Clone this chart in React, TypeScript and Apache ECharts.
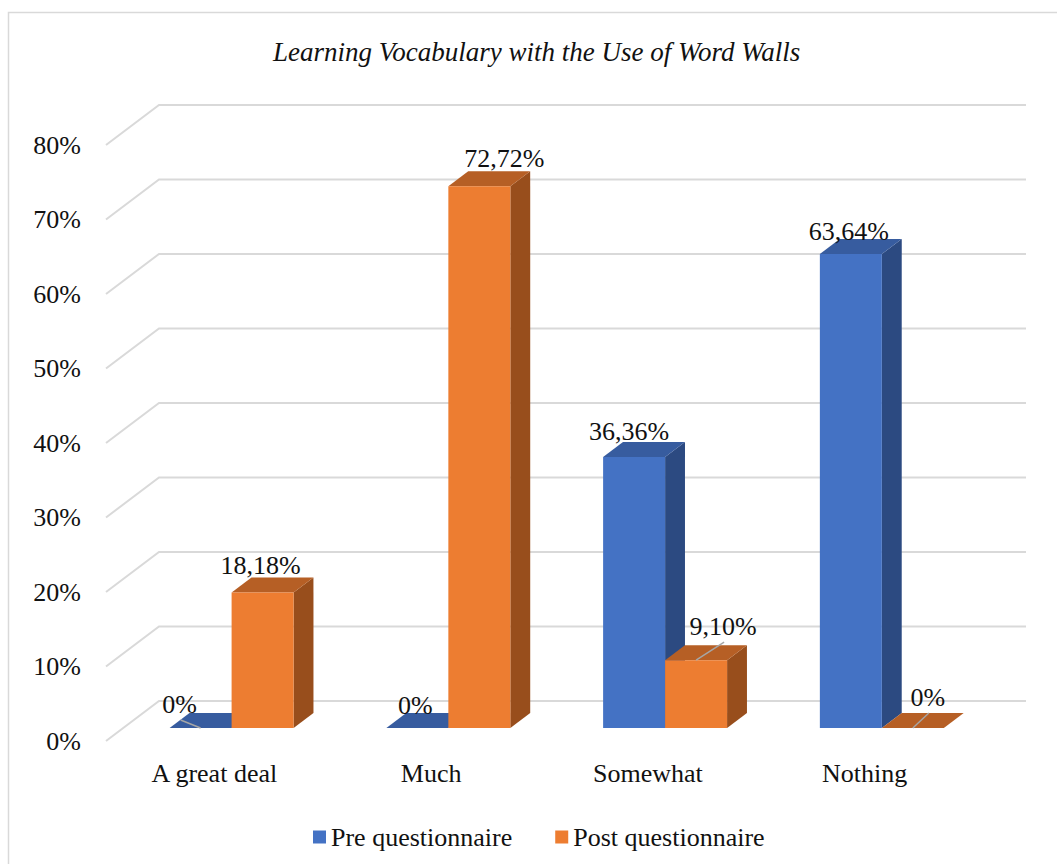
import React, { useEffect, useRef } from "react";
import * as echarts from "echarts";

const TITLE = "Learning Vocabulary with the Use of Word Walls";
const CATEGORIES = ["A great deal", "Much", "Somewhat", "Nothing"];
const SERIES_NAMES = ["Pre questionnaire", "Post questionnaire"];
const PRE_VALUES = [0, 0, 0.3636, 0.6364];
const POST_VALUES = [0.1818, 0.7272, 0.091, 0];
const Y_TICKS = [0, 0.1, 0.2, 0.3, 0.4, 0.5, 0.6, 0.7, 0.8];

// label nudges [dx, dy, leader] per series per category (styling, not data)
const LABEL_NUDGE: number[][][] = [
  [[-21, -9, 1], [-2, -8, 0], [-5, -11, 0], [-2, -7, 0]],
  [[-2, -12, 0], [25, -13, 0], [27, -19, 1], [15, -16, 1]],
];

const FONT = "'Liberation Serif', 'Times New Roman', serif";
const COLORS = [
  { front: "#4472C4", top: "#375C9F", side: "#2C4A81" },
  { front: "#ED7D31", top: "#B65F25", side: "#984E1C" },
];
const DEPTH_X = 53;
const DEPTH_Y = 40;

function fmt(v: number) {
  if (v === 0) return "0%";
  return (v * 100).toFixed(2).replace(".", ",") + "%";
}

function makeBarRenderer(s: number) {
  return (params: any, api: any) => {
    const i = api.value(0);
    const v = api.value(1);
    const top = api.coord([i, v]);
    const base = api.coord([i, 0]);
    const band = api.size([1, 0])[0];
    const w = band * 0.286;
    const fx = 0.325 * DEPTH_X;
    const fy = 0.325 * DEPTH_Y;
    const dx = 0.375 * DEPTH_X;
    const dy = 0.375 * DEPTH_Y;
    const xL = top[0] + fx + (s - 1) * w;
    const xR = xL + w;
    const yb = base[1] - fy;
    const yt = top[1] - fy;
    const c = COLORS[s];
    const children: any[] = [];
    if (v > 0) {
      children.push({
        type: "polygon",
        shape: { points: [[xR, yt], [xR + dx, yt - dy], [xR + dx, yb - dy], [xR, yb]] },
        style: { fill: c.side },
      });
    }
    children.push({
      type: "polygon",
      shape: { points: [[xL, yt], [xL + dx, yt - dy], [xR + dx, yt - dy], [xR, yt]] },
      style: { fill: c.top },
    });
    if (v > 0) {
      children.push({
        type: "rect",
        shape: { x: xL, y: yt, width: w, height: yb - yt },
        style: { fill: c.front },
      });
    }
    const nudge = LABEL_NUDGE[s][params.dataIndex];
    const cx = (xL + xR) / 2;
    const lx = cx + nudge[0];
    const ly = yt - dy + nudge[1];
    if (nudge[2]) {
      children.push({
        type: "line",
        shape: { x1: cx, y1: yt, x2: lx + 1, y2: ly + 16 },
        style: { stroke: "#a6a6a6", lineWidth: 1.5 },
        z2: 50,
      });
    }
    children.push({
      type: "text",
      x: lx,
      y: ly,
      z2: 100,
      style: {
        text: fmt(v),
        fontSize: 26,
        fontFamily: FONT,
        fill: "#111",
        align: "center",
        verticalAlign: "middle",
      },
    });
    return { type: "group", children };
  };
}

export default function App() {
  const ref = useRef<HTMLDivElement>(null);
  useEffect(() => {
    if (!ref.current) return;
    const chart = echarts.init(ref.current, null, { renderer: "svg" });
    chart.setOption({
      animation: false,
      backgroundColor: "#ffffff",
      title: {
        text: TITLE,
        left: 268,
        top: 33,
        textStyle: {
          fontFamily: FONT,
          fontStyle: "italic",
          fontWeight: "normal",
          fontSize: 27,
          color: "#111",
        },
      },
      graphic: [
        {
          type: "rect",
          shape: { x: 8.5, y: 12.5, width: 1200, height: 1000 },
          style: { fill: "none", stroke: "#d9d9d9", lineWidth: 1.5 },
          silent: true,
          z: -10,
        },
      ],
      legend: {
        data: SERIES_NAMES,
        left: 308,
        top: 819,
        icon: "rect",
        itemWidth: 13,
        itemHeight: 13,
        itemGap: 43,
        textStyle: { fontFamily: FONT, fontSize: 26, color: "#111" },
      },
      grid: { left: 106, right: 84, top: 145, bottom: 123, containLabel: false },
      xAxis: {
        type: "category",
        data: CATEGORIES,
        axisLine: { show: false },
        axisTick: { show: false },
        axisLabel: { fontFamily: FONT, fontSize: 26, color: "#111", margin: 19 },
        splitLine: { show: false },
      },
      yAxis: {
        type: "value",
        min: 0,
        max: 0.8,
        interval: 0.1,
        axisLine: { show: false },
        axisTick: { show: false },
        splitLine: { show: false },
        axisLabel: {
          fontFamily: FONT,
          fontSize: 26,
          color: "#111",
          margin: 25,
          formatter: (v: number) => Math.round(v * 100) + "%",
        },
      },
      series: [
        {
          type: "custom",
          name: "grid",
          silent: true,
          data: Y_TICKS.map((t) => [0, t]),
          renderItem: (params: any, api: any) => {
            const p = api.coord([0, api.value(1)]);
            const x0 = params.coordSys.x;
            const w = params.coordSys.width;
            return {
              type: "polyline",
              shape: {
                points: [
                  [x0, p[1]],
                  [x0 + DEPTH_X, p[1] - DEPTH_Y],
                  [x0 + w + DEPTH_X, p[1] - DEPTH_Y],
                ],
              },
              style: { stroke: "#d9d9d9", lineWidth: 2, fill: "none" },
            };
          },
          z: 1,
        },
        {
          type: "custom",
          name: SERIES_NAMES[0],
          itemStyle: { color: COLORS[0].front },
          data: PRE_VALUES.map((v, i) => [i, v]),
          renderItem: makeBarRenderer(0),
          z: 2,
        },
        {
          type: "custom",
          name: SERIES_NAMES[1],
          itemStyle: { color: COLORS[1].front },
          data: POST_VALUES.map((v, i) => [i, v]),
          renderItem: makeBarRenderer(1),
          z: 2,
        },
      ],
    });
    return () => chart.dispose();
  }, []);
  return (
    <div
      ref={ref}
      style={{ position: "absolute", left: 0, top: 0, width: 1057, height: 864 }}
    />
  );
}
